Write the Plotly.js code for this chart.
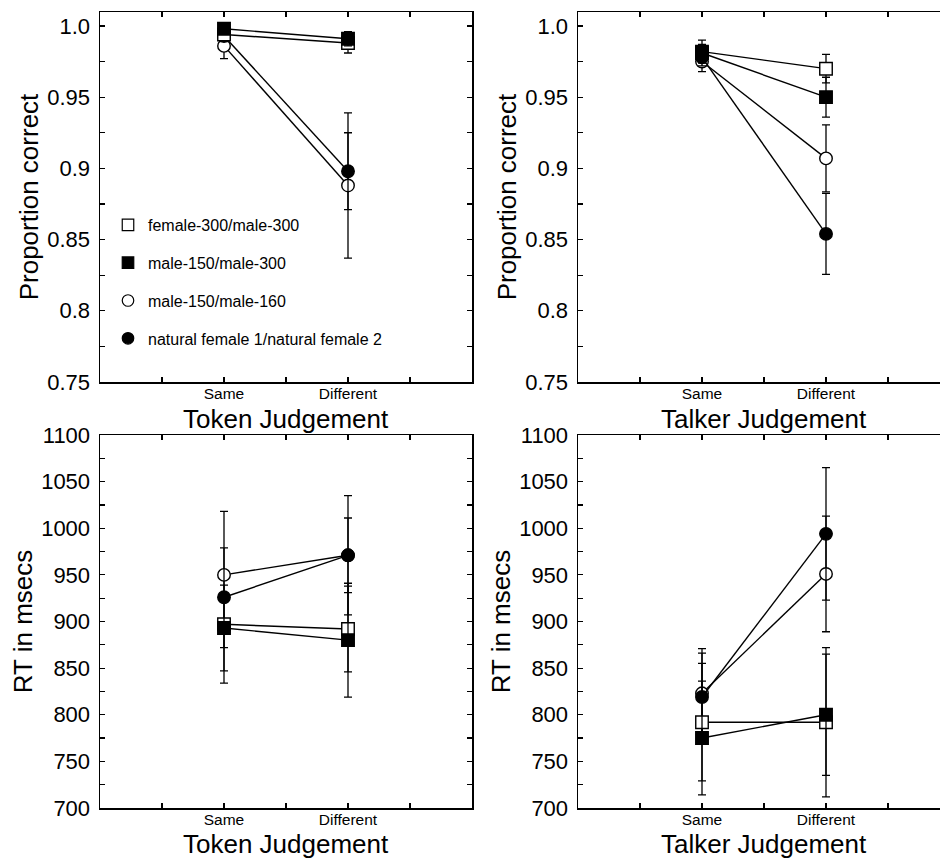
<!DOCTYPE html>
<html><head><meta charset="utf-8">
<script src="https://cdn.plot.ly/plotly-3.0.1.min.js"></script>
<style>html,body{margin:0;padding:0;background:#fff}#chart{width:940px;height:859px}</style>
</head><body><div id="chart"></div>
<script>
// ---- data ----
const categories = ['Same', 'Different'];
const categoryPos = [1, 2];
const seriesNames = ['female-300/male-300', 'male-150/male-300', 'male-150/male-160', 'natural female 1/natural female 2'];
const panelXTitles = ['Token Judgement', 'Talker Judgement', 'Token Judgement', 'Talker Judgement'];
const panelYTitles = ['Proportion correct', 'Proportion correct', 'RT in msecs', 'RT in msecs'];

// Token judgement, proportion correct
const tokenAccF300M300 = [0.994, 0.988];
const tokenAccF300M300Err = [0.003, 0.007];
const tokenAccM150M300 = [0.998, 0.991];
const tokenAccM150M300Err = [0.002, 0.005];
const tokenAccM150M160 = [0.986, 0.888];
const tokenAccM150M160Err = [0.009, 0.051];
const tokenAccNatural = [0.993, 0.898];
const tokenAccNaturalErr = [0.004, 0.027];

// Talker judgement, proportion correct
const talkerAccF300M300 = [0.982, 0.970];
const talkerAccF300M300Err = [0.008, 0.010];
const talkerAccM150M300 = [0.981, 0.950];
const talkerAccM150M300Err = [0.006, 0.014];
const talkerAccM150M160 = [0.975, 0.907];
const talkerAccM150M160Err = [0.007, 0.0235];
const talkerAccNatural = [0.978, 0.854];
const talkerAccNaturalErr = [0.006, 0.0285];

// Token judgement, RT
const tokenRtF300M300 = [897, 892];
const tokenRtF300M300Err = [25, 46];
const tokenRtM150M300 = [893, 880];
const tokenRtM150M300Err = [46, 61];
const tokenRtM150M160 = [950, 971];
const tokenRtM150M160Err = [29, 40];
const tokenRtNatural = [926, 971];
const tokenRtNaturalErr = [92, 64];

// Talker judgement, RT
const talkerRtF300M300 = [792, 792];
const talkerRtF300M300Err = [63, 80];
const talkerRtM150M300 = [775, 800];
const talkerRtM150M300Err = [61, 65];
const talkerRtM150M160 = [823, 951];
const talkerRtM150M160Err = [48, 62];
const talkerRtNatural = [819, 994];
const talkerRtNaturalErr = [47, 71];

const accTickVals = [0.75, 0.8, 0.85, 0.9, 0.95, 1.0];
const accTickText = ['0.75', '0.8', '0.85', '0.9', '0.95', '1.0'];
const rtTickVals = [700, 750, 800, 850, 900, 950, 1000, 1050, 1100];
const rtTickText = ['700', '750', '800', '850', '900', '950', '1000', '1050', '1100'];
const minorXVals = [0.5, 1.5, 2.5];

// ---- styling ----
const FONT = 'Liberation Sans, Arial, Helvetica, sans-serif';
const BLACK = '#000';
// series order: open square, filled square, open circle, filled circle
const seriesSymbol = ['square', 'square', 'circle', 'circle'];
const seriesFill = ['#fff', BLACK, '#fff', BLACK];
const drawOrder = [2, 3, 0, 1];

function seriesTrace(i, y, err, xa, ya) {
  return {
    type: 'scatter', mode: 'lines+markers', x: categoryPos, y: y,
    xaxis: xa, yaxis: ya, showlegend: false, name: seriesNames[i],
    line: {color: BLACK, width: 1.4},
    marker: {symbol: seriesSymbol[i], size: 12.5, color: seriesFill[i], line: {color: BLACK, width: 1.4}},
    error_y: {type: 'data', array: err, visible: true, color: BLACK, thickness: 1.3, width: 4},
    cliponaxis: false
  };
}

const panels = [
  {xa: 'x', ya: 'y', ys: [tokenAccF300M300, tokenAccM150M300, tokenAccM150M160, tokenAccNatural],
   es: [tokenAccF300M300Err, tokenAccM150M300Err, tokenAccM150M160Err, tokenAccNaturalErr]},
  {xa: 'x2', ya: 'y2', ys: [talkerAccF300M300, talkerAccM150M300, talkerAccM150M160, talkerAccNatural],
   es: [talkerAccF300M300Err, talkerAccM150M300Err, talkerAccM150M160Err, talkerAccNaturalErr]},
  {xa: 'x3', ya: 'y3', ys: [tokenRtF300M300, tokenRtM150M300, tokenRtM150M160, tokenRtNatural],
   es: [tokenRtF300M300Err, tokenRtM150M300Err, tokenRtM150M160Err, tokenRtNaturalErr]},
  {xa: 'x4', ya: 'y4', ys: [talkerRtF300M300, talkerRtM150M300, talkerRtM150M160, talkerRtNatural],
   es: [talkerRtF300M300Err, talkerRtM150M300Err, talkerRtM150M160Err, talkerRtNaturalErr]}
];

const traces = [];
panels.forEach(p => {
  drawOrder.forEach(i => traces.push(seriesTrace(i, p.ys[i], p.es[i], p.xa, p.ya)));
});
// legend entries (marker only)
seriesNames.forEach((n, i) => {
  traces.push({
    type: 'scatter', mode: 'markers', x: [null], y: [null], xaxis: 'x', yaxis: 'y',
    name: n, showlegend: true, legendgroup: 'g' + i, legendrank: i + 1,
    marker: {symbol: seriesSymbol[i], size: 11.5, color: seriesFill[i], line: {color: BLACK, width: 1.2}}
  });
});

const W = 940, H = 859;
const leftDom = [100 / W, 472 / W];
const rightDom = [578 / W, 1];
const topDom = [1 - 382 / H, 1 - 12 / H];
const botDom = [1 - 808 / H, 1 - 435 / H];

function xAxis(domain, range, anchor) {
  return {
    domain: domain, range: range, anchor: anchor,
    tickmode: 'array', tickvals: categoryPos, ticktext: categories,
    ticks: 'inside', ticklen: 5, tickwidth: 1.2, tickcolor: BLACK,
    showline: true, linecolor: BLACK, linewidth: 1.5, mirror: 'ticks',
    showgrid: false, zeroline: false,
    tickfont: {family: FONT, size: 15.5, color: BLACK},
    ticklabelstandoff: -3,
    minor: {tickmode: 'array', tickvals: minorXVals, ticks: 'inside', ticklen: 5, tickwidth: 1.2, tickcolor: BLACK, showgrid: false},
    fixedrange: true
  };
}
function yAxis(domain, range, anchor, vals, text, minorDt, mirror, title) {
  return {
    domain: domain, range: range, anchor: anchor,
    tickmode: 'array', tickvals: vals, ticktext: text,
    ticks: 'inside', ticklen: 5, tickwidth: 1.2, tickcolor: BLACK,
    showline: true, linecolor: BLACK, linewidth: 1.5, mirror: mirror,
    showgrid: false, zeroline: false,
    tickfont: {family: FONT, size: 22, color: BLACK},
    ticklabelstandoff: 4,
    minor: {dtick: minorDt, tick0: range[0], ticks: 'inside', ticklen: 5, tickwidth: 1.2, tickcolor: BLACK, showgrid: false},
    title: {text: title, font: {family: FONT, size: 26, color: BLACK}, standoff: 1},
    fixedrange: true
  };
}

const accRange = [0.75, 1.0098];
const rtRange = [700, 1100];
const rightXMax = (W - 578) / 124;

// x-axis titles as centred text under each panel
const xTitleAnn = [
  {x: (leftDom[0] + leftDom[1]) / 2, y: 1 - 403 / H},
  {x: (578 + 372 / 2) / W, y: 1 - 403 / H},
  {x: (leftDom[0] + leftDom[1]) / 2, y: 1 - 828 / H},
  {x: (578 + 372 / 2) / W, y: 1 - 828 / H}
].map((p, k) => ({
  xref: 'paper', yref: 'paper', x: p.x, y: p.y, xanchor: 'center', yanchor: 'top',
  borderpad: 0, text: panelXTitles[k], showarrow: false, font: {family: FONT, size: 26, color: BLACK}
}));

const layout = {
  width: W, height: H,
  margin: {l: 0, r: 0, t: 0, b: 0},
  paper_bgcolor: '#fff', plot_bgcolor: '#fff',
  font: {family: FONT, color: BLACK},
  xaxis: xAxis(leftDom, [0, 3], 'y'),
  yaxis: yAxis(topDom, accRange, 'x', accTickVals, accTickText, 0.025, 'ticks', panelYTitles[0]),
  xaxis2: xAxis(rightDom, [0, rightXMax], 'y2'),
  yaxis2: yAxis(topDom, accRange, 'x2', accTickVals, accTickText, 0.025, false, panelYTitles[1]),
  xaxis3: xAxis(leftDom, [0, 3], 'y3'),
  yaxis3: yAxis(botDom, rtRange, 'x3', rtTickVals, rtTickText, 25, 'ticks', panelYTitles[2]),
  xaxis4: xAxis(rightDom, [0, rightXMax], 'y4'),
  yaxis4: yAxis(botDom, rtRange, 'x4', rtTickVals, rtTickText, 25, false, panelYTitles[3]),
  annotations: xTitleAnn,
  showlegend: true,
  legend: {
    x: 108 / W, xanchor: 'left', y: 1 - 208 / H, yanchor: 'top',
    bgcolor: 'rgba(0,0,0,0)', borderwidth: 0,
    font: {family: FONT, size: 16, color: BLACK},
    traceorder: 'grouped', tracegroupgap: 14, itemwidth: 30
  }
};

Plotly.newPlot('chart', traces, layout, {displayModeBar: false, staticPlot: true});
</script>
</body></html>
